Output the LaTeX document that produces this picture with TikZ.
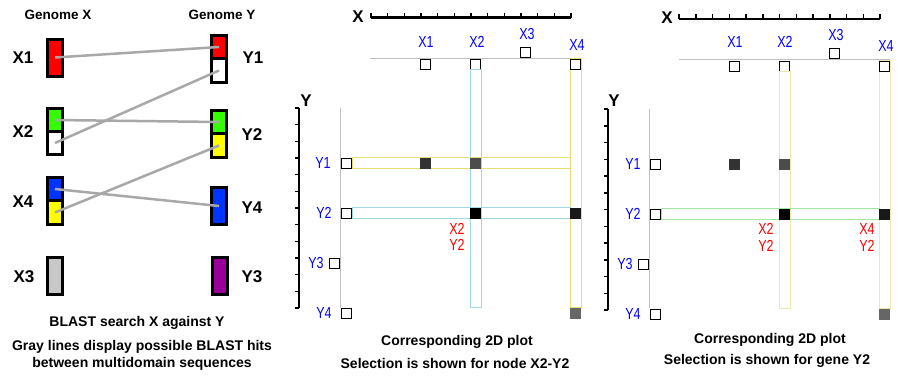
\documentclass[tikz,border=0pt]{standalone}
\usepackage{fontspec}
\setmainfont{Liberation Sans}
\newfontfamily\plotfont[FakeStretch=0.78]{Liberation Sans}
\definecolor{domred}{HTML}{FF0000}
\definecolor{domgreen}{HTML}{33FF00}
\definecolor{domblue}{HTML}{0033FF}
\definecolor{domyellow}{HTML}{FFFF00}
\definecolor{domgray}{HTML}{C8C8C8}
\definecolor{dompurple}{HTML}{990099}
\definecolor{hitgray}{HTML}{A8A8A8}
\definecolor{guidegray}{HTML}{C0C0C0}
\definecolor{labblue}{HTML}{0000FF}
\definecolor{selblue}{HTML}{A0D8E8}
\definecolor{selyellow}{HTML}{E6E070}
\definecolor{paleyellow}{HTML}{EEE8AA}
\definecolor{selgreen}{HTML}{A0E8A0}

\begin{document}
\begin{tikzpicture}[x=1pt,y=-1pt,
    dom/.style={draw, line width=3pt, minimum width=15pt, inner sep=0pt},
    half/.style={dom, minimum height=23.5pt},
    whole/.style={dom, minimum height=37pt},
    gene/.style={font=\fontsize{17}{17}\selectfont\bfseries},
    title/.style={font=\fontsize{13.5}{14}\selectfont\bfseries},
    caption/.style={font=\fontsize{14}{16}\selectfont\bfseries},
    hit/.style={draw=hitgray, line width=2.5pt},
    axis/.style={line width=2.2pt},
    tick/.style={line width=1.5pt},
    guide/.style={draw=guidegray, line width=1pt},
    gbox/.style={draw, fill=white, line width=1pt, minimum size=10pt, inner sep=0pt},
    cell/.style={minimum size=11pt, inner sep=0pt},
    plab/.style={text=labblue, font=\fontsize{16}{16}\plotfont, inner sep=0pt},
    sel/.style={text=red, font=\fontsize{16}{16}\plotfont, inner sep=0pt},
    band/.style={line width=1pt}]
    \useasboundingbox (0,0) rectangle (900,383);

    % Genome X against genome Y
    \node[title] (gx) at (58,15) {Genome X};
    \node[title] (gy) at (222,15) {Genome Y};

    \node[whole, fill=domred] (x1) at (55,57.5) {};
    \node[half, fill=domgreen] (x2a) at (55,120) {};
    \node[half, fill=white] (x2b) at (55,143) {};
    \node[half, fill=domblue] (x4a) at (55,189) {};
    \node[half, fill=domyellow] (x4b) at (55,212.5) {};
    \node[whole, fill=domgray] (x3) at (55,276) {};

    \node[half, fill=domred] (y1a) at (219,47) {};
    \node[half, fill=white] (y1b) at (219,70.5) {};
    \node[half, fill=domgreen] (y2a) at (219,122) {};
    \node[half, fill=domyellow] (y2b) at (219,145.5) {};
    \node[whole, fill=domblue] (y4) at (219,206) {};
    \node[whole, fill=dompurple] (y3) at (219.5,276) {};

    \node[gene] (lx1) at (23,58) {X1};
    \node[gene] (lx2) at (23,132) {X2};
    \node[gene] (lx4) at (23,202) {X4};
    \node[gene] (lx3) at (24,277) {X3};
    \node[gene] (ly1) at (253,58) {Y1};
    \node[gene] (ly2) at (252,135) {Y2};
    \node[gene] (ly4) at (252,208) {Y4};
    \node[gene] (ly3) at (252,277) {Y3};

    % possible BLAST hits
    \draw[hit] (x1.center) -- (y1a.center);
    \draw[hit] (x2b.center) -- (y1b.center);
    \draw[hit] (x2a.center) -- (y2a.center);
    \draw[hit] (x4b.center) -- (y2b.center);
    \draw[hit] (x4a.center) -- (y4.center);

    \node[caption] (c1) at (137,323) {BLAST search X against Y};
    \node[caption] (c2) at (142,347) {Gray lines display possible BLAST hits};
    \node[caption] (c3) at (142,364) {between multidomain sequences};

    % 2D plot, selection for node X2-Y2
    \node[gene] (mxaxis) at (358,17) {X};
    \node[gene] (myaxis) at (306,101) {Y};
    \draw[axis] (371,17.5) -- (571,17.5);
    \foreach \t in {0,...,12}
        \draw[tick] (371+\t*16.667,13) -- (371+\t*16.667,17.5);
    \draw[axis] (299,108) -- (299,308);
    \foreach \t in {0,...,12}
        \draw[tick] (295,108+\t*16.667) -- (299,108+\t*16.667);
    \draw[guide] (370,58) -- (581,58);
    \draw[guide] (340,108) -- (340,308);

    \node[gbox] (mx1) at (425.5,64) {};
    \node[gbox] (mx2) at (475.5,64) {};
    \node[gbox] (mx3) at (525.5,52) {};
    \node[gbox] (mx4) at (575.5,64) {};
    \node[gbox] (my1) at (346.5,163) {};
    \node[gbox] (my2) at (346.5,213) {};
    \node[gbox] (my3) at (334,263) {};
    \node[gbox] (my4) at (346.5,313) {};

    \draw[band, draw=selyellow] (my1.north east) rectangle (mx4.west |- my1.south);
    \draw[band, draw=selyellow] (mx4.north west) rectangle (mx4.east |- my4.north);
    \draw[band, draw=selblue] (my2.north east) rectangle (mx4.west |- my2.south);
    \draw[band, draw=selblue] (mx2.south west) rectangle (mx2.east |- my4.north);
    \node[gbox] at (mx4) {};

    \node[cell, fill=black!80] (m11) at (mx1 |- my1) {};
    \node[cell, fill=black!70] (m21) at (mx2 |- my1) {};
    \node[cell, fill=black] (m22) at (mx2 |- my2) {};
    \node[cell, fill=black!90] (m42) at (mx4 |- my2) {};
    \node[cell, fill=black!60] (m44) at (mx4 |- my4) {};

    \node[plab] (mlx1) at (426,42) {X1};
    \node[plab] (mlx2) at (477,42) {X2};
    \node[plab] (mlx3) at (527,34) {X3};
    \node[plab] (mlx4) at (577,45) {X4};
    \node[plab] (mly1) at (323,163) {Y1};
    \node[plab] (mly2) at (324,213) {Y2};
    \node[plab] (mly3) at (316,263) {Y3};
    \node[plab] (mly4) at (324,313) {Y4};
    \node[sel] (ms1) at (457,229) {X2};
    \node[sel] (ms2) at (457,245) {Y2};

    \node[caption] (c4) at (457,342) {Corresponding 2D plot};
    \node[caption] (c5) at (455,363) {Selection is shown for node X2-Y2};

    % 2D plot, selection for gene Y2
    \node[gene] (rxaxis) at (667,18) {X};
    \node[gene] (ryaxis) at (614,101) {Y};
    \draw[axis] (679,19) -- (880,19);
    \foreach \t in {0,...,12}
        \draw[tick] (679+\t*16.75,14) -- (679+\t*16.75,19);
    \draw[axis] (608,109) -- (608,310);
    \foreach \t in {0,...,12}
        \draw[tick] (604,109+\t*16.75) -- (608,109+\t*16.75);
    \draw[guide] (679,59) -- (890,59);
    \draw[guide] (649,109) -- (649,308);

    \node[gbox] (rx1) at (734.5,66) {};
    \node[gbox] (rx2) at (784.5,66) {};
    \node[gbox] (rx3) at (834.5,53) {};
    \node[gbox] (rx4) at (884.5,66) {};
    \node[gbox] (ry1) at (655.5,164) {};
    \node[gbox] (ry2) at (655.5,214) {};
    \node[gbox] (ry3) at (643.5,264) {};
    \node[gbox] (ry4) at (655.5,314) {};

    \draw[band, draw=paleyellow] (rx2.south west) rectangle (rx2.east |- ry4.north);
    \draw[band, draw=paleyellow] (rx4.north west) rectangle (rx4.east |- ry4.north);
    \draw[band, draw=selgreen] (ry2.north east) rectangle (rx4.west |- ry2.south);
    \node[gbox] at (rx4) {};

    \node[cell, fill=black!80] (r11) at (rx1 |- ry1) {};
    \node[cell, fill=black!70] (r21) at (rx2 |- ry1) {};
    \node[cell, fill=black] (r22) at (rx2 |- ry2) {};
    \node[cell, fill=black!90] (r42) at (rx4 |- ry2) {};
    \node[cell, fill=black!60] (r44) at (rx4 |- ry4) {};

    \node[plab] (rlx1) at (735,42) {X1};
    \node[plab] (rlx2) at (785,42) {X2};
    \node[plab] (rlx3) at (836,35) {X3};
    \node[plab] (rlx4) at (886,46) {X4};
    \node[plab] (rly1) at (633,164) {Y1};
    \node[plab] (rly2) at (633,214) {Y2};
    \node[plab] (rly3) at (625,264) {Y3};
    \node[plab] (rly4) at (633,314) {Y4};
    \node[sel] (rs1) at (766,229) {X2};
    \node[sel] (rs2) at (766,246) {Y2};
    \node[sel] (rs3) at (867,229) {X4};
    \node[sel] (rs4) at (867,246) {Y2};

    \node[caption] (c6) at (770,340) {Corresponding 2D plot};
    \node[caption] (c7) at (767,361) {Selection is shown for gene Y2};
\end{tikzpicture}
\end{document}
